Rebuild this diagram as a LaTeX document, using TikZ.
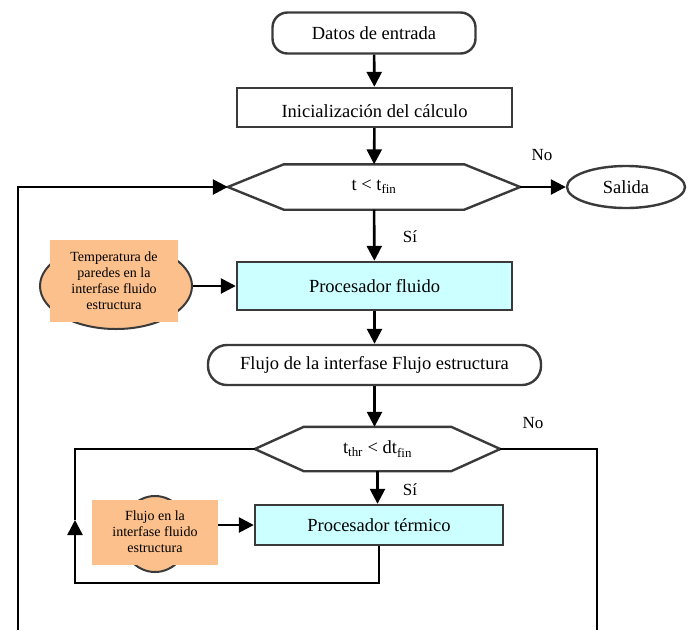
\documentclass[tikz,border=0pt]{standalone}
\usepackage{fontspec}
\setmainfont{Liberation Serif}
\usetikzlibrary{shapes.geometric, arrows.meta}
\definecolor{peach}{HTML}{FBC08C}
\definecolor{paleCyan}{HTML}{CCFFFF}
\definecolor{edge}{HTML}{3A3A3A}
\newcommand{\condframe}[2]{\draw[hexline] (#1.west) -- ([xshift=#2]#1.north west) -- ([xshift=-#2]#1.north east) -- (#1.east) -- ([xshift=-#2]#1.south east) -- ([xshift=#2]#1.south west) -- cycle;}

\begin{document}
\begin{tikzpicture}[
    x=1pt, y=-1pt,
    every node/.style={font=\fontsize{18.5}{21}\selectfont},
    terminal/.style={rectangle, rounded corners=15pt, draw=edge, line width=2.4pt, minimum width=203pt, minimum height=41pt},
    process/.style={rectangle, draw=edge, line width=2.4pt, minimum width=275pt, minimum height=39pt, inner sep=0pt},
    cond/.style={rectangle, inner sep=0pt, minimum height=45pt},
    hexline/.style={draw=edge, line width=2.4pt},
    exitnode/.style={ellipse, draw=edge, line width=2.4pt, minimum width=118pt, minimum height=42pt},
    blob/.style={ellipse, draw=edge, fill=peach, line width=2pt},
    note/.style={rectangle, fill=peach, align=center, inner sep=0pt, font=\fontsize{14}{16}\selectfont},
    lbl/.style={font=\fontsize{17}{20}\selectfont},
    line/.style={draw, line width=2.6pt},
    arrow/.style={-{Triangle[length=15pt, width=15pt]}, line width=2.6pt}
]
\useasboundingbox (0,0) rectangle (692,630);

% Nodes
\node[terminal] (datos) at (374,33) {Datos de entrada};
\node[process] (init) at (374.5,107.5) {\raisebox{-4pt}[\height][\depth]{Inicialización del cálculo}};
\node[cond, minimum width=292pt] (t1) at (374,187) {t < t\textsubscript{fin}};
\condframe{t1}{56pt}
\node[exitnode] (salida) at (626,187) {Salida};
\node[blob, minimum width=152pt, minimum height=86pt] (ell1) at (116,286) {};
\node[note, minimum width=128pt, minimum height=82pt] (temp) at (114,281) {Temperatura de\\paredes en la\\interfase fluido\\estructura};
\node[process, fill=paleCyan, minimum height=48pt] (pf) at (374.5,286) {Procesador fluido};
\node[terminal, rounded corners=19pt, minimum width=333pt, minimum height=40pt] (flujo) at (374.5,365) {Flujo de la interfase Flujo estructura};
\node[cond, minimum width=245pt, minimum height=44pt] (t2) at (377.5,449) {t\textsubscript{thr} < dt\textsubscript{fin}};
\condframe{t2}{49pt}
\node[blob, minimum width=68pt, minimum height=76pt] (ell2) at (155,534) {};
\node[note, minimum width=126pt, minimum height=65pt] (flujoint) at (155,532) {Flujo en la\\interfase fluido\\estructura};
\node[process, fill=paleCyan, minimum width=248pt, minimum height=40pt] (pt) at (379,525) {Procesador térmico};

% Labels
\node[lbl] (no1) at (542,155) {No};
\node[lbl] (si1) at (410,237) {Sí};
\node[lbl] (no2) at (533,423) {No};
\node[lbl] (si2) at (410,490) {Sí};

% Loop corners
\coordinate (outL) at (18,630);
\coordinate (outR) at (597,630);
\coordinate (loopB) at (75,583);
\coordinate (loopM) at (75,520);

% Paths
\draw[arrow] (datos) -- (init);
\draw[arrow] (init) -- (t1);
\draw[arrow] (t1) -- (salida);
\draw[arrow] (t1) -- (pf);
\draw[arrow] (ell1) -- (pf);
\draw[arrow] (pf) -- (flujo);
\draw[arrow] (flujo.south) -- (flujo.south |- t2.north);
\draw[arrow] (t2.south) -- (t2.south |- pt.north);
\draw[arrow] (flujoint.east |- pt) -- (pt.west);
\draw[arrow] (outL) |- (t1.west);
\draw[line] (t2.east) -| (outR);
\draw[arrow] (pt.south) |- (loopB) -- (loopM);
\draw[line] (loopM) |- (t2.west);

\end{tikzpicture}
\end{document}
